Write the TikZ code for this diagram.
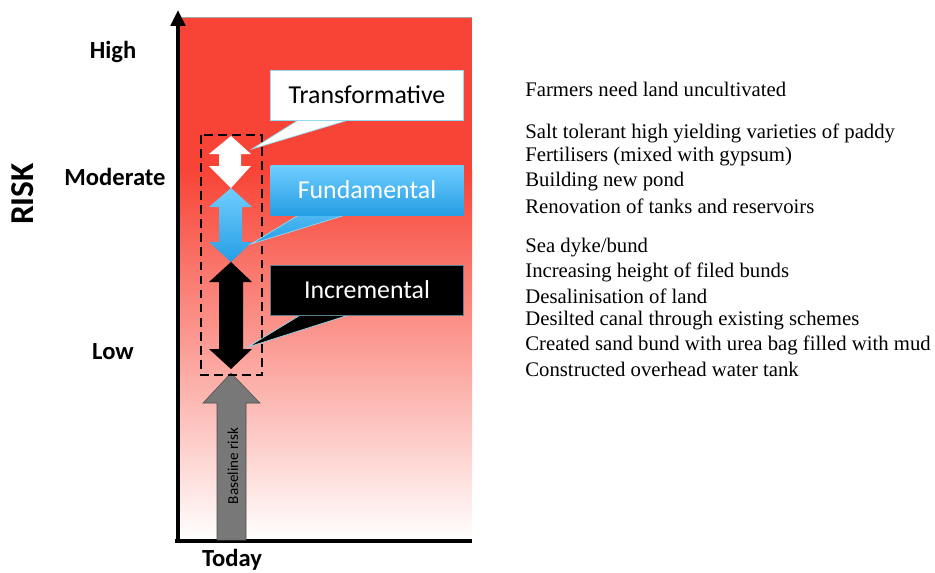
\documentclass[tikz,border=0pt]{standalone}
\usepackage{fontspec}
\setmainfont{Liberation Serif}
\newfontfamily\lab{Carlito}
\usepackage{tikz}
\usetikzlibrary{arrows.meta}

\definecolor{riskred}{RGB}{248,68,54}
\definecolor{riskmid}{RGB}{246,140,130}
\definecolor{fundtop}{RGB}{112,206,255}
\definecolor{fundbot}{RGB}{38,158,228}
\definecolor{basegray}{RGB}{120,120,120}
\definecolor{glow}{RGB}{150,215,240}

\tikzset{
  level/.style={font=\lab\bfseries\fontsize{14}{16}\selectfont},
  callout/.style={minimum width=193*0.02cm, minimum height=50*0.02cm, inner sep=0pt,
    font=\lab\fontsize{14.7}{17}\selectfont},
  option/.style={anchor=west, inner sep=0pt, font=\fontsize{11.8}{14}\selectfont}
}

\begin{document}
\begin{tikzpicture}[x=0.02cm, y=-0.02cm]

    \useasboundingbox (0,0) rectangle (935,572);

    % background and axes
    \fill [riskred] (178,17) rectangle (472,171);
    \shade [top color=riskred, middle color=riskmid, bottom color=white] (178,170) rectangle (472,540);
    \draw [gray!70, line width=0.4pt] (178,17) -- (472,17);
    \draw [line width=2.3pt, -{Triangle[length=9pt,width=8pt]}] (178,542) -- (178,10);
    \draw [line width=2.3pt] (175,541) -- (472,541);

    \node [level] (high) at (113,52) {High};
    \node [level] (mod) at (115,177) {Moderate};
    \node [level] (low) at (113,352) {Low};
    \node [font=\lab\bfseries\fontsize{19}{21}\selectfont, rotate=90] (risk) at (23,194) {RISK};
    \node [level] (today) at (232,560) {Today};

    % baseline arrow
    \fill [basegray, draw=gray!60!black, line width=0.3pt] (217,540) -- (217,403) -- (203,403) -- (231,373) -- (260,403) -- (246,403) -- (246,540) -- cycle;
    \node [rotate=90, font=\lab\fontsize{8.6}{10}\selectfont] (base) at (233,466) {Baseline risk};

    % double arrows
    \fill [white] (231,136) -- (251,154) -- (241,154) -- (241,166) -- (251,166) -- (231,188) -- (209,166) -- (219,166) -- (219,154) -- (209,154) -- cycle;
    \shade [top color=fundtop, bottom color=fundbot] (231,188) -- (252,207) -- (242,207) -- (242,242) -- (252,242) -- (231,262) -- (209,242) -- (219,242) -- (219,207) -- (209,207) -- cycle;
    \fill [black] (231,262) -- (252,282) -- (243,282) -- (243,349) -- (252,349) -- (231,369) -- (209,349) -- (219,349) -- (219,282) -- (209,282) -- cycle;

    \draw [line width=1.2pt, dash pattern=on 5pt off 3pt] (201,135) rectangle (262,375);

    % callouts
    \coordinate (tt) at (252,149);
    \coordinate (ft) at (251,244);
    \coordinate (it) at (248,347);
    \fill [white, draw=glow, line width=0.4pt] (300,119) -- (tt) -- (352,119) -- cycle;
    \shade [top color=fundtop!60!fundbot, bottom color=fundbot, draw=glow] (302,213) -- (ft) -- (352,213) -- cycle;
    \fill [black, draw=glow, line width=0.4pt] (302,314) -- (it) -- (352,314) -- cycle;

    \node [callout, fill=white, draw=glow] (trans) at (367,95) {Transformative};
    \node [callout, top color=fundtop, bottom color=fundbot, text=white] (fund) at (367,190) {Fundamental};
    \node [callout, fill=black, text=white, draw=glow!60!black] (incr) at (367,290) {Incremental};

    % measures
    \node [option] (m1) at (525,89) {Farmers need land uncultivated};
    \node [option] (m2) at (525,133) {Salt tolerant high yielding varieties of paddy};
    \node [option] (m3) at (525,157) {Fertilisers (mixed with gypsum)};
    \node [option] (m4) at (525,182) {Building new pond};
    \node [option] (m5) at (525,206) {Renovation of tanks and reservoirs};
    \node [option] (m6) at (525,248) {Sea dyke/bund};
    \node [option] (m7) at (525,272) {Increasing height of filed bunds};
    \node [option] (m8) at (525,296) {Desalinisation of land};
    \node [option] (m9) at (525,321) {Desilted canal through existing schemes};
    \node [option] (m10) at (525,345) {Created sand bund with urea bag filled with mud};
    \node [option] (m11) at (525,369) {Constructed overhead water tank};

\end{tikzpicture}
\end{document}
